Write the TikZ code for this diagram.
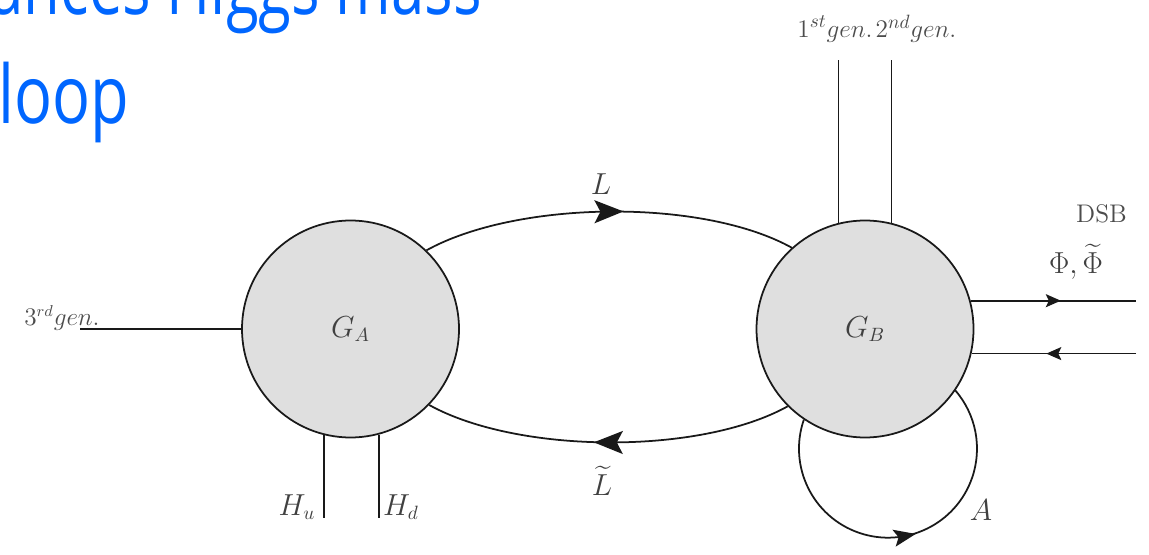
\documentclass[tikz,border=0pt]{standalone}
\usepackage{amsmath,amssymb}
\usepackage{fontspec}
\newfontfamily\titlefont{Open Sans}
\usetikzlibrary{arrows.meta,positioning,decorations.markings}
\definecolor{slideblue}{RGB}{0,102,255}
\tikzset{
  bigtip/.tip={Stealth[length=5.8mm,width=4.6mm,inset=1.2mm]},
  looptip/.tip={Stealth[length=4.4mm,width=3.4mm,inset=0.9mm]},
  smalltip/.tip={Stealth[length=3mm,width=2.6mm,inset=0.6mm]}
}
\begin{document}
\begin{tikzpicture}[
  blob/.style={circle, draw=black!90, fill=gray!25, line width=1pt,
               minimum size=4.34cm, inner sep=0pt, text=black!75,
               font=\fontsize{16}{19}\selectfont},
  leg/.style={draw=black!90, line width=1pt},
  lbl/.style={text=black!75, inner sep=1pt, font=\fontsize{16}{19}\selectfont},
  genlbl/.style={text=black!70, inner sep=1pt, font=\fontsize{15}{18}\selectfont},
  flow/.style 2 args={postaction={decorate},
               decoration={markings, mark=at position 0.5 with {\arrow[xshift=#2]{#1}}}},
  title/.style={text=slideblue, font=\titlefont\fontsize{46}{54}\selectfont, inner sep=0pt}
]
  \clip (0,0) rectangle (22.98,11.08);

  % slide title, cut by the frame
  \node[title, anchor=base east] (title1) at (9.64,10.78) {\scalebox{0.74}[1]{ances Higgs mass}};
  \node[title, anchor=base west] (title2) at (-0.04,8.60) {\scalebox{0.78}[1]{loop}};

  % the two blobs
  \node[blob] (GA) at (7.01,4.50) {$G_A$};
  \node[blob] (GB) at (17.30,4.50) {$G_B$};

  \coordinate (gtop)  at (0,9.88);
  \coordinate (hbot)  at (0,0.72);
  \coordinate (redge) at (22.72,0);
  \coordinate (tgen)  at (1.60,4.50);

  % lepton lines
  \draw[leg, flow={bigtip}{2.9mm}] (GA.46) to[out=29, in=151, looseness=0.72] (GB.132);
  \draw[leg, flow={bigtip}{2.9mm}] (GB.-135) to[out=-151, in=-29, looseness=0.72] (GA.-44);

  % external legs
  \draw[leg] (tgen) -- (GA.west);
  \draw[leg] (GA.-104.5) -- (GA.-104.5 |- hbot);
  \draw[leg] (GA.-75.5)  -- (GA.-75.5 |- hbot);
  \draw[leg] (GB.104.5)  -- (GB.104.5 |- gtop);
  \draw[leg] (GB.76)     -- (GB.76 |- gtop);
  \draw[leg, flow={smalltip}{1.5mm}] (GB.15.6) -- (GB.15.6 -| redge);
  \draw[leg, flow={smalltip}{1.5mm}] (GB.-13.4 -| redge) -- (GB.-13.4);

  % gauge loop
  \draw[leg, flow={looptip}{2.2mm}] (GB.-124.6) arc[start angle=161, end angle=401, radius=1.78];

  % labels
  \node[lbl] (Llab)  at (12.02,7.40) {$L$};
  \node[lbl] (Ltlab) at (12.04,1.46) {$\widetilde{L}$};
  \node[lbl] (Alab)  at (19.62,0.88) {$A$};
  \node[lbl] (Hu)    at (5.94,0.94)  {$H_u$};
  \node[lbl] (Hd)    at (8.02,0.94)  {$H_d$};
  \node[lbl] (phi)   at (21.52,5.84) {$\Phi,\widetilde{\Phi}$};
  \node[genlbl, font=\fontsize{14.5}{17}\selectfont] (dsb) at (22.03,6.80) {DSB};
  \node[genlbl] (gen1) at (16.70,10.50) {$1^{st}gen.$};
  \node[genlbl] (gen2) at (18.32,10.50) {$2^{nd}gen.$};
  \node[genlbl, font=\fontsize{13.5}{16}\selectfont] (gen3) at (1.24,4.72) {$3^{rd}gen.$};
\end{tikzpicture}
\end{document}
